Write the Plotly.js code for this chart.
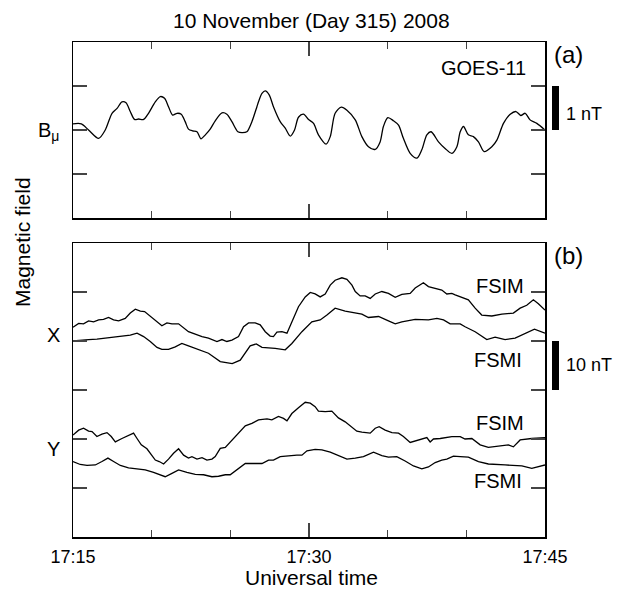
<!DOCTYPE html>
<html>
<head>
<meta charset="utf-8">
<script src="https://cdn.plot.ly/plotly-3.0.1.min.js"></script>
<style>html,body{margin:0;padding:0;background:#fff;}</style>
</head>
<body>
<div id="chart" style="width:622px;height:591px;"></div>
<script>
// ---- Data (minutes after 17:15 UT) ----
const timeTicks = [0, 15, 30];
const timeTickText = ['17:15', '17:30', '17:45'];

// Panel (a): GOES-11 B_mu (nT, offset)
const minGoes = [0,0.53,0.99,1.63,2.05,2.48,2.80,3.11,3.37,3.64,3.91,4.17,4.49,4.80,5.23,5.55,5.82,6.07,6.33,6.61,6.88,7.13,7.34,7.60,7.88,8.13,8.41,8.72,9.04,9.47,9.78,10.10,10.48,10.74,11.05,11.37,11.69,11.79,12.01,12.22,12.47,12.74,13.17,13.49,13.81,14.08,14.33,14.65,14.97,15.29,15.60,16.09,16.35,16.66,17.05,17.41,17.94,18.36,18.78,19.21,19.52,19.73,20.01,20.37,20.69,21.00,21.43,21.86,22.17,22.49,22.76,23.23,23.65,24.08,24.40,24.61,24.82,25.13,25.45,25.77,26.13,26.62,26.94,27.36,27.79,28.16,28.46,28.74,29.05,29.48,30];
const goesBmu = [0.14,0.14,0.00,-0.19,0.00,0.38,0.49,0.64,0.62,0.42,0.24,0.25,0.24,0.38,0.64,0.76,0.72,0.53,0.34,0.38,0.36,0.19,0.02,-0.02,-0.04,-0.20,-0.11,0.02,0.21,0.39,0.36,0.19,-0.04,-0.06,-0.04,0.19,0.53,0.64,0.83,0.89,0.80,0.53,0.19,0.04,-0.14,0.00,0.29,0.36,0.24,0.15,-0.11,-0.32,-0.15,0.38,0.52,0.45,0.23,-0.15,-0.38,-0.44,-0.27,0.08,0.28,0.21,0.11,-0.19,-0.53,-0.64,-0.45,-0.11,-0.04,-0.27,-0.42,-0.53,-0.38,-0.04,0.08,-0.11,-0.15,-0.27,-0.49,-0.38,-0.23,0.15,0.36,0.42,0.33,0.38,0.23,0.15,0.00];

// Panel (b): X component (nT, offset)
const minXfsim = [0,0.36,0.67,0.99,1.31,1.63,1.94,2.26,2.58,2.90,3.32,3.64,3.96,4.28,4.55,4.91,5.23,5.65,5.97,6.29,6.71,7.03,7.34,7.77,8.20,8.61,9.15,9.47,9.78,10.10,10.52,10.84,11.16,11.58,11.90,12.22,12.53,12.74,12.96,13.28,13.60,13.91,14.33,14.76,15.08,15.39,15.71,16.03,16.35,16.66,17.09,17.41,17.73,17.94,18.25,18.57,18.89,19.21,19.63,20.05,20.48,20.90,21.43,21.75,22.27,22.59,23.02,23.44,23.76,24.08,24.29,25.13,25.56,25.98,26.62,27.26,27.99,28.42,28.84,29.26,29.58,30];
const xFSIM = [42.8,43.6,43.5,44.1,43.9,44.3,44.4,44.8,44.3,44.1,44.6,45.7,46.5,46.1,46.0,45.0,44.3,43.1,43.7,43.5,43.5,42.6,41.9,41.4,40.9,40.6,39.9,40.3,39.9,40.2,40.9,42.9,43.7,43.7,43.3,41.9,41.0,40.9,41.8,41.9,41.6,43.9,47.0,49.0,49.9,49.6,49.0,49.6,51.4,52.4,52.9,52.6,51.4,50.1,49.2,49.2,48.7,49.6,50.1,49.7,48.9,49.5,49.7,50.8,51.9,51.1,50.8,50.4,49.6,49.7,49.4,48.4,46.7,45.3,45.1,45.5,45.7,46.7,47.3,48.4,47.6,46.3];
const minXfsmi = [0,0.46,0.99,1.52,2.05,2.58,3.11,3.64,4.07,4.49,4.91,5.34,5.65,6.07,6.50,6.92,7.34,7.77,8.20,8.61,9.36,10.12,10.63,11.26,11.65,12.01,12.85,13.49,13.91,14.55,15.18,15.71,16.14,16.66,17.30,17.94,18.36,18.78,19.42,20.05,20.48,20.90,21.75,22.59,23.13,23.55,23.97,24.61,24.92,25.56,26.30,26.83,27.46,28.10,28.74,29.33,30];
const xFSMI = [40.0,40.2,40.3,40.4,40.6,40.9,41.0,41.2,41.6,40.9,39.9,38.7,38.3,38.3,38.8,39.5,39.0,38.5,38.0,37.5,35.8,35.4,36.1,39.0,39.4,38.7,38.5,38.2,39.5,41.9,43.9,44.3,45.3,46.7,46.1,45.7,45.5,44.8,45.0,44.1,43.5,43.9,44.4,44.3,44.6,44.3,43.5,43.5,42.9,41.9,40.3,40.8,40.3,40.6,41.6,42.4,41.6];

// Panel (b): Y component (nT, offset)
const minYfsim = [0,0.36,0.67,0.99,1.21,1.52,1.84,2.16,2.43,2.69,3.11,3.53,3.85,4.07,4.34,4.70,5.02,5.23,5.48,5.76,6.07,6.39,6.71,7.03,7.34,7.56,7.88,8.20,8.51,8.83,9.04,9.36,9.68,9.99,10.42,10.95,11.37,11.79,12.33,12.64,13.06,13.38,13.60,13.91,14.33,14.76,15.08,15.39,15.60,16.03,16.45,16.87,17.30,17.73,18.04,18.36,18.89,19.21,19.46,19.84,20.27,20.69,21.00,21.43,21.86,22.27,22.49,22.70,22.91,23.34,23.76,24.08,24.61,24.92,25.35,25.88,26.40,27.04,27.67,27.99,28.42,29.16,30];
const yFSIM = [20.8,21.8,22.2,21.6,21.5,20.5,21.0,21.3,20.5,19.4,20.1,20.7,21.2,20.1,18.8,18.0,16.7,15.7,15.4,14.9,15.9,17.1,18.0,16.7,16.1,16.4,15.9,16.2,15.7,15.9,16.4,18.1,18.3,19.4,21.0,22.7,23.2,23.9,24.1,23.9,24.6,24.2,23.7,25.2,26.4,27.5,27.3,26.6,25.7,25.6,25.7,24.3,23.5,22.5,21.6,21.4,21.2,22.2,22.5,21.8,21.3,21.2,20.5,19.3,19.7,20.0,20.3,19.4,20.0,20.1,20.3,20.5,20.5,20.0,20.1,18.8,18.3,18.6,18.8,18.4,19.8,20.1,20.3];
const minYfsmi = [0,0.46,0.89,1.42,1.84,2.22,2.58,3.01,3.53,4.07,4.59,5.12,5.65,5.86,6.29,6.71,7.24,7.77,8.30,8.83,9.25,9.68,9.99,10.42,10.95,11.37,11.79,12.01,12.43,12.74,13.17,13.70,14.23,14.55,14.87,15.39,15.82,16.35,16.87,17.41,17.94,18.46,19.10,19.63,20.05,20.58,21.11,21.64,22.17,22.59,23.02,23.44,23.76,24.18,24.61,25.13,25.77,26.40,27.46,28.53,29.16,30];
const yFSMI = [15.4,14.8,14.6,14.7,15.4,16.1,15.4,14.6,14.1,13.9,13.7,13.2,12.5,12.3,13.0,13.7,13.2,12.8,12.7,12.3,12.4,12.7,12.7,13.7,15.0,15.0,14.9,15.0,15.7,15.7,16.4,16.6,16.7,16.7,17.6,17.9,17.8,17.3,16.6,15.9,16.1,16.4,17.3,16.6,16.3,16.4,15.5,14.5,13.9,14.3,15.2,15.7,15.9,16.5,16.4,16.3,15.4,14.9,14.7,14.5,14.0,14.7];

// ---- Layout helpers (pixel -> paper) ----
const L = 73, R = 545, T = 42, B = 537;
const px = x => (x - L) / (R - L);
const py = y => (B - y) / (B - T);
const FONT = 'Liberation Sans, Arial, Helvetica, sans-serif';

const lineStyle = {color: '#000', width: 1.3};
const traces = [
  {x: minGoes, y: goesBmu, xaxis: 'x', yaxis: 'y', mode: 'lines', line: Object.assign({shape: 'spline', smoothing: 0.8}, lineStyle), name: 'GOES-11 Bμ'},
  {x: minXfsim, y: xFSIM, xaxis: 'x2', yaxis: 'y2', mode: 'lines', line: lineStyle, name: 'FSIM X'},
  {x: minXfsmi, y: xFSMI, xaxis: 'x2', yaxis: 'y2', mode: 'lines', line: lineStyle, name: 'FSMI X'},
  {x: minYfsim, y: yFSIM, xaxis: 'x2', yaxis: 'y2', mode: 'lines', line: lineStyle, name: 'FSIM Y'},
  {x: minYfsmi, y: yFSMI, xaxis: 'x2', yaxis: 'y2', mode: 'lines', line: lineStyle, name: 'FSMI Y'}
];

const tickCol = '#444';
function xAxis(anchor, showLabels) {
  return {
    anchor: anchor, domain: [0, 1], range: [0, 30],
    showline: true, linecolor: '#000', linewidth: 1.5, mirror: 'allticks',
    ticks: 'inside', tickmode: 'array', tickvals: timeTicks, ticktext: timeTickText,
    ticklen: 14, tickwidth: 1.5, tickcolor: tickCol,
    minor: {tickmode: 'linear', tick0: 0, dtick: 5, ticks: 'inside', ticklen: 7, tickwidth: 1.5, tickcolor: tickCol, showgrid: false},
    showticklabels: showLabels, showgrid: false, zeroline: false,
    tickfont: {family: FONT, size: 18, color: '#000'}, ticklabelstandoff: 3
  };
}
function yAxis(anchor, domain, range, vals) {
  return {
    anchor: anchor, domain: domain, range: range,
    showline: true, linecolor: '#000', linewidth: 1.5, mirror: 'allticks',
    ticks: 'inside', tickmode: 'array', tickvals: vals,
    ticklen: 14, tickwidth: 1.5, tickcolor: tickCol,
    showticklabels: false, showgrid: false, zeroline: false
  };
}

const ann = (text, x, y, size, xanchor, extra) => Object.assign({
  text: text, xref: 'paper', yref: 'paper', x: px(x), y: py(y),
  xanchor: xanchor || 'center', yanchor: 'middle', showarrow: false,
  font: {family: FONT, size: size, color: '#000'}
}, extra || {});

const layout = {
  width: 622, height: 591,
  margin: {l: L, r: 622 - R, t: T, b: 591 - B, pad: 0},
  paper_bgcolor: '#fff', plot_bgcolor: '#fff',
  showlegend: false,
  xaxis: xAxis('y', false),
  yaxis: yAxis('x', [py(218), 1], [-2, 2], [-1, 0, 1]),
  xaxis2: xAxis('y2', true),
  yaxis2: yAxis('x2', [0, py(243)], [0, 60], [10, 20, 30, 40, 50]),
  shapes: [
    {type: 'rect', xref: 'paper', yref: 'y', x0: px(552), x1: px(559), y0: 0, y1: 1, fillcolor: '#000', line: {width: 0}},
    {type: 'rect', xref: 'paper', yref: 'y2', x0: px(552), x1: px(559), y0: 30, y1: 40, fillcolor: '#000', line: {width: 0}}
  ],
  annotations: [
    ann('10 November (Day 315) 2008', 311, 21, 21),
    ann('(a)', 568, 55, 24),
    ann('(b)', 568, 255, 24),
    ann('GOES-11', 528, 68, 20, 'right'),
    ann('1 nT', 564, 114, 18, 'left'),
    ann('10 nT', 564, 365, 18, 'left'),
    ann('FSIM', 526, 286, 20, 'right'),
    ann('FSMI', 524, 360, 20, 'right'),
    ann('FSIM', 526, 423, 20, 'right'),
    ann('FSMI', 524, 481, 20, 'right'),
    ann('B<sub>μ</sub>', 61, 131, 20, 'right'),
    ann('X', 62, 335, 20, 'right'),
    ann('Y', 62, 449, 20, 'right'),
    ann('Magnetic field', 22, 242, 21, 'center', {textangle: -90}),
    ann('Universal time', 311, 577, 21)
  ]
};

Plotly.newPlot('chart', traces, layout, {displayModeBar: false, staticPlot: true});
</script>
</body>
</html>
